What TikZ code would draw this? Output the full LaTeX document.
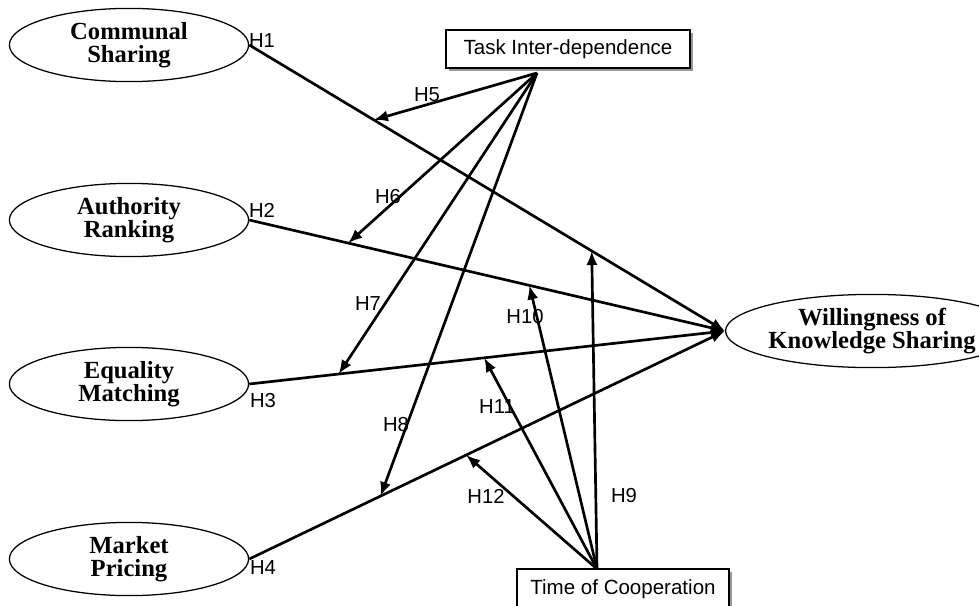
\documentclass[tikz,border=0pt]{standalone}
\usepackage{fontspec}
\setmainfont{Liberation Sans}
\newfontfamily\constructfont{Liberation Serif}
\usetikzlibrary{arrows.meta, shapes.geometric, shadows}

\tikzset{
  construct/.style={ellipse, draw=black, line width=0.9pt, minimum width=5.98cm, minimum height=1.83cm, inner sep=0pt, align=center, font=\constructfont\bfseries\fontsize{17.5}{16.5}\selectfont},
  moderator/.style={rectangle, draw=black, line width=0.9pt, fill=white, inner sep=0pt, drop shadow={shadow xshift=2.2pt, shadow yshift=-2.2pt, fill=gray!80, opacity=1}, font=\fontsize{14.6}{16}\selectfont},
  link/.style={line width=1.9pt, -{Latex[length=10pt, width=8pt]}},
  hlabel/.style={inner sep=0pt, font=\fontsize{14.4}{16}\selectfont},
}

\begin{document}
\begin{tikzpicture}[x=0.025cm, y=-0.025cm]
      \useasboundingbox (0, 0) rectangle (979, 605);

      \node[construct] (cs) at (129, 45) {Communal\\Sharing};
      \node[construct] (ar) at (129, 220) {Authority\\Ranking};
      \node[construct] (em) at (129, 384) {Equality\\Matching};
      \node[construct] (mp) at (129, 559) {Market\\Pricing};
      \node[construct] (wks) at (872, 331) {Willingness of\\Knowledge Sharing};

      \node[moderator, minimum width=6.1cm, minimum height=0.95cm] (tid) at (568, 49) {Task Inter-dependence};
      \node[moderator, minimum width=5.3cm, minimum height=1cm] (toc) at (623, 589) {Time of Cooperation};

      \coordinate (tsrc) at (537, 73);
      \coordinate (csrc) at (597, 569);

      \draw[link] (cs.east) -- (wks.west) coordinate[pos=0.262] (h5) coordinate[pos=0.72] (h9);
      \draw[link] (ar.east) -- (wks.west) coordinate[pos=0.208] (h6) coordinate[pos=0.589] (h10);
      \draw[link] (em.east) -- (wks.west) coordinate[pos=0.188] (h7) coordinate[pos=0.494] (h11);
      \draw[link] (mp.east) -- (wks.west) coordinate[pos=0.276] (h8) coordinate[pos=0.456] (h12);

      \foreach \t in {h5, h6, h7, h8}
        \draw[link] (tsrc) -- (\t);
      \foreach \t in {h9, h10, h11, h12}
        \draw[link] (csrc) -- (\t);

      \node[hlabel] (l1) at (262, 41) {H1};
      \node[hlabel] (l2) at (262, 210) {H2};
      \node[hlabel] (l3) at (263, 401) {H3};
      \node[hlabel] (l4) at (263, 568) {H4};
      \node[hlabel] (l5) at (427, 95) {H5};
      \node[hlabel] (l6) at (388, 197) {H6};
      \node[hlabel] (l7) at (368, 304) {H7};
      \node[hlabel] (l8) at (396, 425) {H8};
      \node[hlabel] (l9) at (624, 496) {H9};
      \node[hlabel] (l10) at (525, 317) {H10};
      \node[hlabel] (l11) at (497, 407) {H11};
      \node[hlabel] (l12) at (486, 496) {H12};

    \end{tikzpicture}
\end{document}
